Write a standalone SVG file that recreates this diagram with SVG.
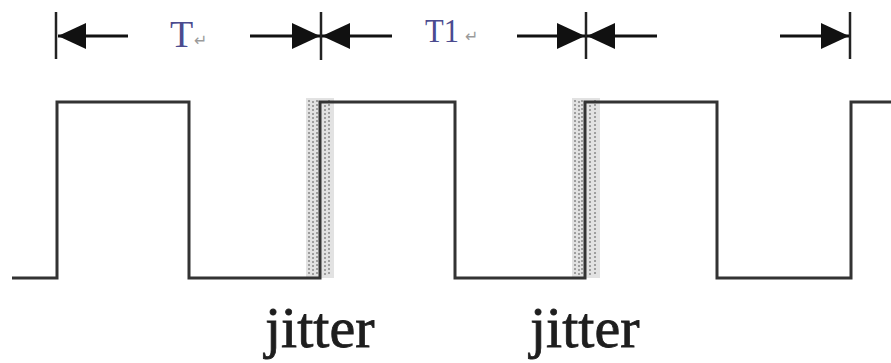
<svg xmlns="http://www.w3.org/2000/svg" width="891" height="363" viewBox="0 0 891 363">
<style>
.wave{fill:none;stroke:#333;stroke-width:3;stroke-linejoin:miter}
.dim{stroke:#111;stroke-width:3;fill:none}
.tick{stroke:#222;stroke-width:2.5}
.lbl{font-family:"Liberation Serif",serif;fill:#4b4b8f}
.ret{font-family:"DejaVu Sans",sans-serif;fill:#9a9a9a;font-size:16px}
.jit{font-family:"Liberation Serif",serif;font-size:58px;fill:#1e1e1e;stroke:#1e1e1e;stroke-width:0.8}
.band{fill:#e2e2e2}
.bandline{stroke:#888;stroke-width:1.5;stroke-dasharray:2 2}
</style>
<defs>
<marker id="ah" markerUnits="userSpaceOnUse" markerWidth="30" markerHeight="30" refX="28" refY="15" orient="auto">
<path d="M0,2 L28,15 L0,28 Z" fill="#111"/>
</marker>
</defs>
<rect width="891" height="363" fill="#fff"/>
<g id="jitter-band-1">
<rect class="band" x="306" y="98" width="28" height="180"/>
<line class="bandline" x1="309" y1="100" x2="309" y2="276"/>
<line class="bandline" x1="313" y1="101" x2="313" y2="276"/>
<line class="bandline" x1="317" y1="100" x2="317" y2="276"/>
<line class="bandline" x1="325" y1="101" x2="325" y2="276"/>
<line class="bandline" x1="329" y1="100" x2="329" y2="276"/>
</g>
<g id="jitter-band-2">
<rect class="band" x="572" y="98" width="28" height="180"/>
<line class="bandline" x1="575" y1="100" x2="575" y2="276"/>
<line class="bandline" x1="579" y1="101" x2="579" y2="276"/>
<line class="bandline" x1="582" y1="100" x2="582" y2="276"/>
<line class="bandline" x1="590" y1="101" x2="590" y2="276"/>
<line class="bandline" x1="595" y1="100" x2="595" y2="276"/>
</g>
<g id="waveform">
<path class="wave" d="M12,278 H57 V102 H189 V278 H320 V102 H455 V278 H585 V102 H717 V278 H851 V102 H893"/>
</g>
<g id="connectors">
<line class="tick" x1="56" y1="12" x2="56" y2="59"/>
<line class="tick" x1="321" y1="12" x2="321" y2="60"/>
<line class="tick" x1="586" y1="12" x2="586" y2="59"/>
<line class="tick" x1="850" y1="12" x2="850" y2="59"/>
<line class="dim" x1="128" y1="36" x2="58" y2="36" marker-end="url(#ah)"/>
<line class="dim" x1="250" y1="36" x2="320" y2="36" marker-end="url(#ah)"/>
<line class="dim" x1="392" y1="36" x2="322" y2="36" marker-end="url(#ah)"/>
<line class="dim" x1="517" y1="36" x2="585" y2="36" marker-end="url(#ah)"/>
<line class="dim" x1="657" y1="36" x2="587" y2="36" marker-end="url(#ah)"/>
<line class="dim" x1="780" y1="36" x2="849" y2="36" marker-end="url(#ah)"/>
</g>
<g id="label-T">
<text class="lbl" x="170" y="47" font-size="38">T</text>
<text class="ret" x="194" y="46">↵</text>
</g>
<g id="label-T1">
<text class="lbl" x="425" y="42" font-size="34" textLength="34" lengthAdjust="spacingAndGlyphs">T1</text>
<text class="ret" x="465" y="42">↵</text>
</g>
<g id="label-jitter-1">
<text class="jit" x="265" y="347">jitter</text>
</g>
<g id="label-jitter-2">
<text class="jit" x="530" y="347">jitter</text>
</g>
</svg>
